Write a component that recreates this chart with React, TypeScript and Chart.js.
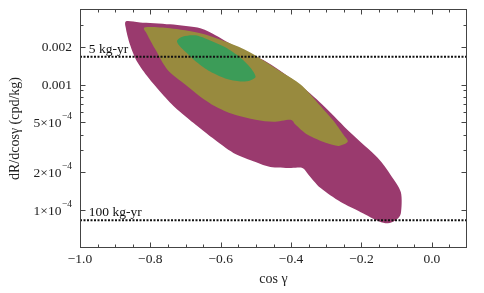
import React, { useEffect, useRef } from 'react';
import { Chart, registerables } from 'chart.js';

Chart.register(...registerables);

// Axis ranges and ticks
const xRange = [-1.0, 0.1];
const yRange = [5e-5, 4e-3];
const xMajorTicks = [-1.0, -0.8, -0.6, -0.4, -0.2, 0.0];
const xTickLabels = ['−1.0', '−0.8', '−0.6', '−0.4', '−0.2', '0.0'];
const xMinorTicks = [-0.95, -0.9, -0.85, -0.75, -0.7, -0.65, -0.55, -0.5, -0.45, -0.35, -0.3, -0.25, -0.15, -0.1, -0.05, 0.05];
const yMajorTicks = [1e-4, 2e-4, 5e-4, 1e-3, 2e-3];
const yTickLabels = ['1×10^−4', '2×10^−4', '5×10^−4', '0.001', '0.002'];
const yMinorTicks = [3e-4, 4e-4, 6e-4, 7e-4, 8e-4, 9e-4, 3e-3];

// Exposure reference lines
const exposureLevels = [1 / 600, 1 / 12000];
const exposureLabels = ['5 kg-yr', '100 kg-yr'];

// Outer (magenta) region boundary
const outerCos = [-0.869, -0.829, -0.744, -0.658, -0.615, -0.558, -0.467, -0.373, -0.302, -0.231, -0.154, -0.117, -0.088, -0.088, -0.103, -0.125, -0.151, -0.202, -0.259, -0.316, -0.350, -0.368, -0.402, -0.459, -0.501, -0.564, -0.624, -0.678, -0.729, -0.772, -0.806, -0.838, -0.858, -0.869];
const outerRate = [3.19e-3, 3.13e-3, 3.02e-3, 2.81e-3, 2.47e-3, 2.01e-3, 1.50e-3, 9.82e-4, 6.55e-4, 4.13e-4, 2.61e-4, 1.91e-4, 1.39e-4, 9.46e-5, 8.32e-5, 7.87e-5, 8.17e-5, 9.64e-5, 1.16e-4, 1.50e-4, 1.91e-4, 2.17e-4, 2.17e-4, 2.21e-4, 2.42e-4, 2.86e-4, 3.77e-4, 4.97e-4, 6.55e-4, 8.79e-4, 1.14e-3, 1.53e-3, 2.09e-3, 2.75e-3];

// Middle (olive) region boundary
const middleCos = [-0.815, -0.744, -0.658, -0.581, -0.516, -0.430, -0.373, -0.325, -0.282, -0.251, -0.239, -0.265, -0.302, -0.353, -0.387, -0.402, -0.450, -0.501, -0.564, -0.615, -0.658, -0.701, -0.752, -0.786, -0.809];
const middleRate = [2.86e-3, 2.81e-3, 2.56e-3, 2.17e-3, 1.80e-3, 1.27e-3, 1.0e-3, 7.18e-4, 5.25e-4, 3.98e-4, 3.50e-4, 3.25e-4, 3.44e-4, 3.98e-4, 4.79e-4, 5.25e-4, 5.06e-4, 5.25e-4, 5.80e-4, 6.70e-4, 8.02e-4, 1.0e-3, 1.32e-3, 1.91e-3, 2.51e-3];

// Inner (green) region boundary
const innerCos = [-0.724, -0.707, -0.672, -0.630, -0.587, -0.544, -0.516, -0.501, -0.516, -0.544, -0.587, -0.630, -0.667, -0.695, -0.718];
const innerRate = [2.25e-3, 2.42e-3, 2.47e-3, 2.25e-3, 1.98e-3, 1.64e-3, 1.37e-3, 1.16e-3, 1.08e-3, 1.06e-3, 1.12e-3, 1.27e-3, 1.50e-3, 1.77e-3, 2.05e-3];

const regionColors = ['rgb(154,58,110)', 'rgb(152,138,62)', 'rgb(60,156,88)'];

const SERIF = "'Liberation Serif', 'Times New Roman', serif";

const customPlugin = {
  id: 'customDraw',
  beforeDatasetsDraw(chart: any) {
    const ctx = chart.ctx;
    const { left, right, top, bottom } = chart.chartArea;
    ctx.save();
    ctx.beginPath();
    ctx.rect(left, top, right - left, bottom - top);
    ctx.clip();
    const k = 0.14;
    chart.data.datasets.forEach((ds: any, i: number) => {
      if (!ds.regionColor) return;
      const pts = chart.getDatasetMeta(i).data.map((p: any) => ({ x: p.x, y: p.y }));
      const n = pts.length;
      ctx.beginPath();
      ctx.moveTo(pts[0].x, pts[0].y);
      for (let j = 0; j < n; j++) {
        const p0 = pts[(j - 1 + n) % n];
        const p1 = pts[j];
        const p2 = pts[(j + 1) % n];
        const p3 = pts[(j + 2) % n];
        ctx.bezierCurveTo(
          p1.x + (p2.x - p0.x) * k,
          p1.y + (p2.y - p0.y) * k,
          p2.x - (p3.x - p1.x) * k,
          p2.y - (p3.y - p1.y) * k,
          p2.x,
          p2.y
        );
      }
      ctx.closePath();
      ctx.fillStyle = ds.regionColor;
      ctx.fill();
    });
    ctx.restore();
  },
  afterDraw(chart: any) {
    const ctx = chart.ctx;
    const { left, right, top, bottom } = chart.chartArea;
    const xs = chart.scales.x;
    const ys = chart.scales.y;
    ctx.save();
    // exposure labels
    ctx.fillStyle = '#111';
    ctx.font = `13.5px ${SERIF}`;
    ctx.textAlign = 'left';
    ctx.textBaseline = 'alphabetic';
    exposureLevels.forEach((lvl, i) => {
      ctx.fillText(exposureLabels[i], xs.getPixelForValue(-0.975), ys.getPixelForValue(lvl) - 4);
    });
    // frame
    const L = Math.round(left) + 0.5, R = Math.round(right) - 0.5;
    const T = Math.round(top) + 0.5, B = Math.round(bottom) - 0.5;
    ctx.strokeStyle = '#444';
    ctx.lineWidth = 1;
    ctx.strokeRect(L, T, R - L, B - T);
    // x ticks
    const drawX = (v: number, len: number) => {
      const px = Math.round(xs.getPixelForValue(v)) + 0.5;
      ctx.beginPath();
      ctx.moveTo(px, B); ctx.lineTo(px, B - len);
      ctx.moveTo(px, T); ctx.lineTo(px, T + len);
      ctx.stroke();
    };
    xMajorTicks.forEach((v) => drawX(v, 5));
    xMinorTicks.forEach((v) => drawX(v, 3));
    const drawY = (v: number, len: number) => {
      const py = Math.round(ys.getPixelForValue(v)) + 0.5;
      ctx.beginPath();
      ctx.moveTo(L, py); ctx.lineTo(L + len, py);
      ctx.moveTo(R, py); ctx.lineTo(R - len, py);
      ctx.stroke();
    };
    yMajorTicks.forEach((v) => drawY(v, 5));
    yMinorTicks.forEach((v) => drawY(v, 3));
    // y tick labels with superscripts
    ctx.fillStyle = '#222';
    ctx.textBaseline = 'middle';
    yMajorTicks.forEach((v, i) => {
      const py = ys.getPixelForValue(v);
      const [base, sup] = yTickLabels[i].split('^');
      let xEnd = left - 8;
      if (sup) {
        ctx.font = `9.5px ${SERIF}`;
        const sw = ctx.measureText(sup).width;
        ctx.textAlign = 'left';
        ctx.fillText(sup, xEnd - sw, py - 6);
        xEnd -= sw + 0.5;
      }
      ctx.font = `13.5px ${SERIF}`;
      ctx.textAlign = 'right';
      ctx.fillText(base, xEnd, py + 1);
    });
    ctx.restore();
  },
};

export default function App() {
  const ref = useRef<HTMLCanvasElement | null>(null);
  useEffect(() => {
    if (!ref.current) return;
    Chart.defaults.font.family = SERIF;
    const regionDs = (cos: number[], rate: number[], color: string) => ({
      data: cos.map((c, k) => ({ x: c, y: rate[k] })),
      showLine: false,
      pointRadius: 0,
      pointHoverRadius: 0,
      regionColor: color,
    });
    const lineDs = (lvl: number) => ({
      data: [
        { x: xRange[0], y: lvl },
        { x: xRange[1], y: lvl },
      ],
      borderColor: '#111',
      borderWidth: 2,
      borderDash: [2, 1.5],
      pointRadius: 0,
      fill: false,
    });
    const chart = new Chart(ref.current, {
      type: 'line',
      data: {
        datasets: [
          regionDs(outerCos, outerRate, regionColors[0]),
          regionDs(middleCos, middleRate, regionColors[1]),
          regionDs(innerCos, innerRate, regionColors[2]),
          lineDs(exposureLevels[0]),
          lineDs(exposureLevels[1]),
        ] as any,
      },
      options: {
        animation: false,
        responsive: false,
        events: [],
        layout: { padding: { left: 0, right: 17, top: 9, bottom: 0 } },
        plugins: { legend: { display: false }, tooltip: { enabled: false } },
        scales: {
          x: {
            type: 'linear',
            min: xRange[0],
            max: xRange[1],
            grid: { display: false, drawTicks: false },
            border: { display: false },
            afterBuildTicks: (s: any) => {
              s.ticks = xMajorTicks.map((v) => ({ value: v }));
            },
            afterFit: (s: any) => {
              s.height = 45;
            },
            ticks: {
              autoSkip: false,
              maxRotation: 0,
              padding: 3,
              color: '#222',
              font: { size: 13.5, family: SERIF },
              callback: (v: any) => {
                const i = xMajorTicks.findIndex((t) => Math.abs(t - Number(v)) < 1e-6);
                return i >= 0 ? xTickLabels[i] : '';
              },
            },
            title: {
              display: true,
              text: 'cos γ',
              color: '#222',
              font: { size: 14, family: SERIF },
              padding: { top: 0, bottom: 5 },
            },
          },
          y: {
            type: 'logarithmic',
            min: yRange[0],
            max: yRange[1],
            grid: { display: false, drawTicks: false },
            border: { display: false },
            afterBuildTicks: (s: any) => {
              s.ticks = yMajorTicks.map((v) => ({ value: v }));
            },
            afterFit: (s: any) => {
              s.width = 80;
            },
            ticks: { display: false },
            title: {
              display: true,
              text: 'dR/dcosγ (cpd/kg)',
              color: '#222',
              font: { size: 14, family: SERIF },
              padding: { top: 7, bottom: 0 },
            },
          },
        },
      },
      plugins: [customPlugin],
    } as any);
    return () => chart.destroy();
  }, []);
  return (
    <div style={{ position: 'fixed', left: 0, top: 0, width: 484, height: 293, background: '#fff' }}>
      <canvas ref={ref} width={484} height={293} />
    </div>
  );
}
